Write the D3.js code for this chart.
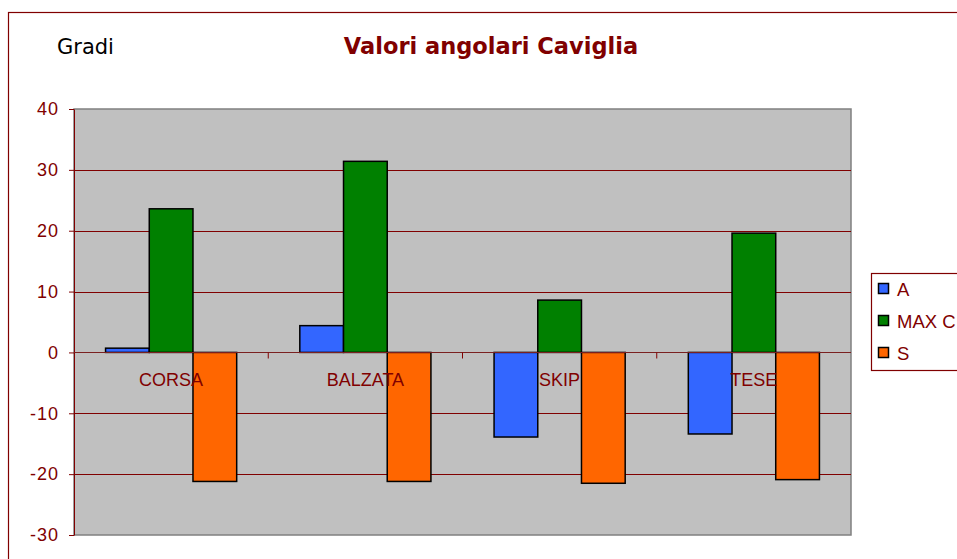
<!DOCTYPE html>
<html>
<head>
<meta charset="utf-8">
<script src="https://cdn.jsdelivr.net/npm/d3@7"></script>
<style>
  body { margin: 0; background: #fff; overflow: hidden; }
  svg { display: block; }
</style>
</head>
<body>
<svg id="chart" width="957" height="559"></svg>
<script>
// Dati
const categorie = ["CORSA", "BALZATA", "SKIP", "TESE"];
const serieNomi = ["A", "MAX C", "S"];
const valoriA = [0.7, 4.4, -13.9, -13.4];
const valoriMaxC = [23.6, 31.4, 8.6, 19.6];
const valoriS = [-21.2, -21.2, -21.5, -20.9];
const tickY = [40, 30, 20, 10, 0, -10, -20, -30];

const COLORI = { "A": "#3366ff", "MAX C": "#008000", "S": "#ff6600" };
const ROSSO = "#800000";

const serie = [valoriA, valoriMaxC, valoriS];
const righe = categorie.map((c, i) => ({
  cat: c,
  valori: serieNomi.map((s, j) => ({ serie: s, v: serie[j][i] }))
}));

const svg = d3.select("#chart");

// cornice esterna
svg.append("rect")
  .attr("x", 8.5).attr("y", 12.5)
  .attr("width", 1000).attr("height", 600)
  .attr("fill", "none").attr("stroke", ROSSO).attr("stroke-width", 1.2);

const plot = { x0: 74, x1: 851, y0: 109, y1: 535 };

const y = d3.scaleLinear().domain([-30, 40]).range([plot.y1, plot.y0]);
const x0 = d3.scaleBand().domain(categorie).range([plot.x0, plot.x1]).paddingInner(0.325).paddingOuter(0.1625);
const x1 = d3.scaleBand().domain(serieNomi).range([0, x0.bandwidth()]);

// area del grafico
svg.append("rect")
  .attr("x", plot.x0).attr("y", plot.y0)
  .attr("width", plot.x1 - plot.x0).attr("height", plot.y1 - plot.y0)
  .attr("fill", "#c0c0c0").attr("stroke", "#808080").attr("stroke-width", 1.5);

// griglia
svg.append("g").selectAll("line")
  .data(tickY.filter(t => t !== 40 && t !== -30))
  .enter().append("line")
  .attr("x1", plot.x0).attr("x2", plot.x1)
  .attr("y1", d => Math.round(y(d)) + 0.5).attr("y2", d => Math.round(y(d)) + 0.5)
  .attr("stroke", ROSSO).attr("stroke-width", 1);

// asse Y
const asseY = svg.append("g")
  .attr("transform", `translate(${plot.x0},0)`)
  .call(d3.axisLeft(y).tickValues(tickY).tickFormat(d => String(d))
    .tickSize(5).tickPadding(10).tickSizeOuter(0));
asseY.select(".domain").attr("stroke", ROSSO);
asseY.selectAll(".tick line").attr("stroke", ROSSO);
asseY.selectAll(".tick text")
  .attr("fill", ROSSO)
  .style("font-family", "'Liberation Sans', Arial, sans-serif")
  .style("font-size", "18px")
  .style("letter-spacing", "1px");

// barre
const gruppi = svg.append("g").selectAll("g")
  .data(righe).enter().append("g")
  .attr("transform", d => `translate(${x0(d.cat)},0)`);

gruppi.selectAll("rect")
  .data(d => d.valori).enter().append("rect")
  .attr("x", d => x1(d.serie))
  .attr("y", d => y(Math.max(0, d.v)))
  .attr("width", x1.bandwidth())
  .attr("height", d => Math.abs(y(d.v) - y(0)))
  .attr("fill", d => COLORI[d.serie])
  .attr("stroke", "#000").attr("stroke-width", 1.5);

// asse X (linea zero + tacche)
const yZero = Math.round(y(0)) + 0.5;
svg.append("line")
  .attr("x1", plot.x0).attr("x2", plot.x1)
  .attr("y1", yZero).attr("y2", yZero)
  .attr("stroke", "#7a2020").attr("stroke-width", 1.2);
svg.append("g").selectAll("line")
  .data(categorie.slice(1)).enter().append("line")
  .attr("x1", d => x0(d) - x0.step() * x0.paddingInner() / 2)
  .attr("x2", d => x0(d) - x0.step() * x0.paddingInner() / 2)
  .attr("y1", yZero).attr("y2", yZero + 6)
  .attr("stroke", ROSSO);

// etichette categorie
svg.append("g").selectAll("text")
  .data(categorie).enter().append("text")
  .attr("x", d => x0(d) + x0.bandwidth() / 2)
  .attr("y", 386)
  .attr("text-anchor", "middle")
  .attr("fill", ROSSO)
  .style("font-family", "'Liberation Sans', Arial, sans-serif")
  .style("font-size", "18px")
  .text(d => d);

// titolo e unità
svg.append("text")
  .attr("x", 491).attr("y", 54)
  .attr("text-anchor", "middle")
  .attr("fill", ROSSO)
  .style("font-family", "'DejaVu Sans', Verdana, sans-serif")
  .style("font-weight", "bold")
  .style("font-size", "22.5px")
  .text("Valori angolari Caviglia");

svg.append("text")
  .attr("x", 57).attr("y", 54)
  .attr("fill", "#000")
  .style("font-family", "'DejaVu Sans', Verdana, sans-serif")
  .style("font-size", "21px")
  .text("Gradi");

// legenda
const leg = svg.append("g").attr("transform", "translate(871,273)");
leg.append("rect")
  .attr("x", 0.5).attr("y", 0.5).attr("width", 120).attr("height", 97)
  .attr("fill", "#fff").attr("stroke", ROSSO).attr("stroke-width", 1.2);
const voci = leg.selectAll("g.voce")
  .data(serieNomi).enter().append("g")
  .attr("class", "voce")
  .attr("transform", (d, i) => `translate(0,${16 + i * 32})`);
voci.append("rect")
  .attr("x", 7.5).attr("y", -5.5).attr("width", 10).attr("height", 10)
  .attr("fill", d => COLORI[d]).attr("stroke", "#000").attr("stroke-width", 1.5);
voci.append("text")
  .attr("x", 26).attr("y", 7)
  .attr("fill", ROSSO)
  .style("font-family", "'Liberation Sans', Arial, sans-serif")
  .style("font-size", "18.5px")
  .text(d => d);
</script>
</body>
</html>
